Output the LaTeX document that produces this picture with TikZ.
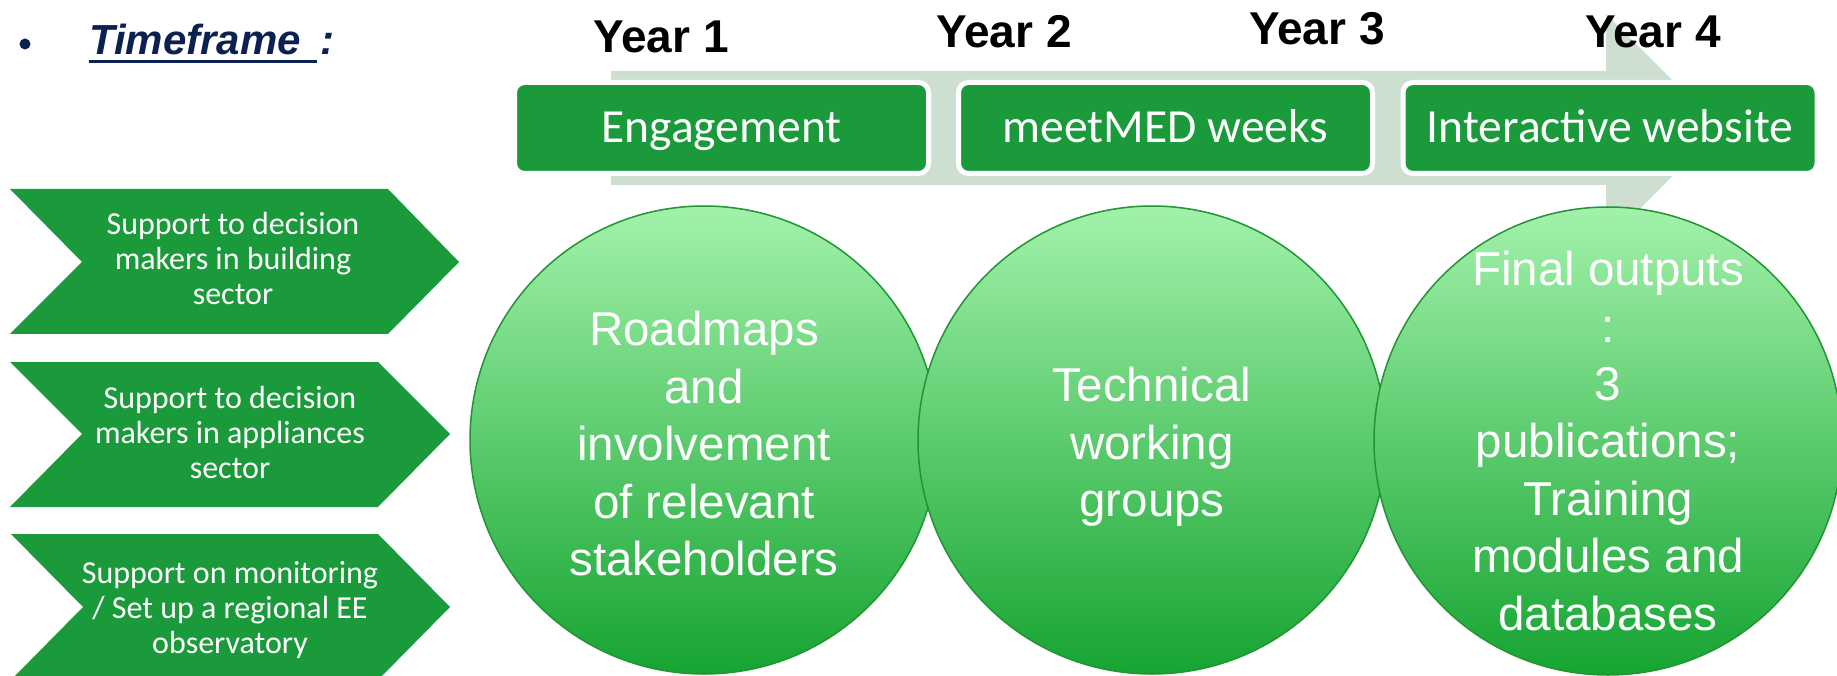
\documentclass[tikz,border=0pt]{standalone}
\usepackage{fontspec}
\setmainfont{Liberation Sans}
\newfontfamily\carlito{Carlito}
\definecolor{mygreen}{RGB}{26,154,58}
\definecolor{arrowcol}{RGB}{205,223,208}
\definecolor{navy}{RGB}{10,33,82}
\definecolor{circtop}{RGB}{162,242,170}
\definecolor{circbot}{RGB}{22,164,50}
\definecolor{circline}{RGB}{34,148,52}
\tikzset{
  chev/.style={fill=mygreen},
  chevtext/.style={text=white, align=center, font=\carlito\fontsize{32}{35}\selectfont, inner sep=0pt},
  phasebox/.style={rectangle, rounded corners=10pt, fill=mygreen, draw=white, line width=5pt,
    minimum width=414pt, minimum height=91pt, text=white, text height=30pt, text depth=0pt,
    font=\carlito\fontsize{47.5}{55}\selectfont},
  yearlbl/.style={font=\bfseries\fontsize{46}{55}\selectfont, anchor=base, inner sep=0pt},
  bubble/.style={circle, minimum size=468pt, inner sep=0pt, top color=circtop, bottom color=circbot,
    draw=circline, line width=1.5pt},
  bubbletext/.style={text=white, align=center, font=\fontsize{47.5}{57.5}\selectfont, inner sep=0pt},
  titletext/.style={text=navy, font=\bfseries\itshape\fontsize{42}{50}\selectfont, anchor=base west, inner sep=0pt}
}
\begin{document}
\begin{tikzpicture}[x=1pt,y=-1pt]
\useasboundingbox (0,0) rectangle (1837,676);
\clip (0,0) rectangle (1837,676);
\fill[white] (0,0) rectangle (1837,676);

% title
\fill[navy] (25,44) circle (5.5);
\node[titletext] (tf) at (89,55) {Timeframe};
\node[titletext] (colon) at (320,55) {:};
\draw[navy, line width=3pt] (89,62) -- (317,62);

% chevrons
\fill[chev] (10,189) -- (388,189) -- (459,262) -- (388,334) -- (10,334) -- (82,262) -- cycle;
\fill[chev] (10,362) -- (378,362) -- (450,434) -- (378,507) -- (10,507) -- (82,434) -- cycle;
\fill[chev] (11,534) -- (378,534) -- (450,607) -- (378,680) -- (11,680) -- (83,607) -- cycle;
\node[chevtext] (c1) at (233,259) {Support to decision\\makers in building\\sector};
\node[chevtext] (c2) at (230,433) {Support to decision\\makers in appliances\\sector};
\node[chevtext] (c3) at (230,610) {Support on monitoring\\/ Set up a regional EE\\observatory};

% big arrow
\fill[arrowcol] (611,71) -- (1606,71) -- (1606,14) -- (1720,128) -- (1606,243) -- (1606,185) -- (611,185) -- cycle;

% phase boxes
\node[phasebox] (b1) at (721.5,128) {Engagement};
\node[phasebox] (b2) at (1165.5,128) {meetMED weeks};
\node[phasebox] (b3) at (1610,128) {Interactive website};

% years
\node[yearlbl] (y1) at (661,53) {Year 1};
\node[yearlbl] (y2) at (1004,48) {Year 2};
\node[yearlbl] (y3) at (1317,45) {Year 3};
\node[yearlbl] (y4) at (1653,48) {Year 4};

% circles
\node[bubble] (o1) at (704,440) {};
\node[bubble] (o2) at (1152,440) {};
\node[bubble] (o3) at (1608,441) {};
\node[bubbletext] (t1) at (704,444) {Roadmaps\\and\\involvement\\of relevant\\stakeholders};
\node[bubbletext] (t2) at (1152,447) {Technical\\working\\groups};
\node[bubbletext] (t3) at (1608,441) {Final outputs\\:\\3\\publications;\\Training\\modules and\\databases};
\end{tikzpicture}
\end{document}
